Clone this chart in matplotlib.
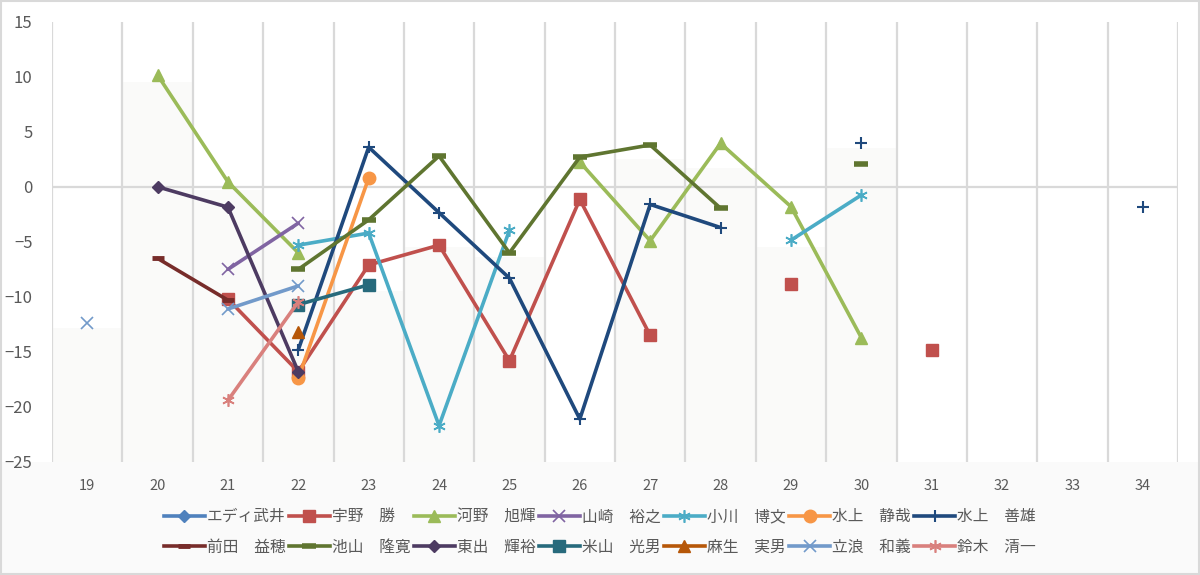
import numpy as np
import matplotlib
matplotlib.use("Agg")
import matplotlib.pyplot as plt
from matplotlib.patches import Rectangle
from matplotlib.lines import Line2D

plt.rcParams['font.family'] = ['Noto Sans CJK JP', 'DejaVu Sans']

nan = np.nan
categories = [19, 20, 21, 22, 23, 24, 25, 26, 27, 28, 29, 30, 31, 32, 33, 34]

# faint background step series
background = [-12.8, 9.5, -0.3, -3.0, -9.5, -5.5, -6.4, nan, 2.5, 1.7, -5.5, 3.5, nan, nan, nan, nan]

names = ["エディ武井", "宇野　勝", "河野　旭輝", "山崎　裕之", "小川　博文", "水上　静哉", "水上　善雄",
         "前田　益穂", "池山　隆寛", "東出　輝裕", "米山　光男", "麻生　実男", "立浪　和義", "鈴木　清一"]

eddie    = [nan]*16
uno      = [nan, nan, -10.2, -16.8, -7.1, -5.3, -15.8, -1.15, -13.5, nan, -8.8, nan, -14.8, nan, nan, nan]
kono     = [nan, 10.15, 0.45, -6.0, nan, nan, nan, 2.25, -4.9, 3.95, -1.8, -13.7, nan, nan, nan, nan]
yamazaki = [nan, nan, -7.5, -3.3, nan, nan, nan, nan, nan, nan, nan, nan, nan, nan, nan, nan]
ogawa    = [nan, nan, nan, -5.3, -4.2, -21.7, -3.95, nan, nan, nan, -4.85, -0.75, nan, nan, nan, nan]
mizukami_s = [nan, nan, nan, -17.4, 0.8, nan, nan, nan, nan, nan, nan, nan, nan, nan, nan, nan]
mizukami_y = [nan, nan, nan, -14.8, 3.6, -2.35, -8.3, -21.1, -1.6, -3.7, nan, 3.95, nan, nan, nan, -1.8]
maeda    = [nan, -6.5, -10.3, nan, nan, nan, nan, nan, nan, nan, nan, nan, nan, nan, nan, nan]
ikeyama  = [nan, nan, nan, -7.5, -3.0, 2.8, -6.0, 2.7, 3.8, -1.95, nan, 2.05, nan, nan, nan, nan]
higashide = [nan, 0.0, -1.85, -16.8, nan, nan, nan, nan, nan, nan, nan, nan, nan, nan, nan, nan]
yoneyama = [nan, nan, nan, -10.7, -8.9, nan, nan, nan, nan, nan, nan, nan, nan, nan, nan, nan]
aso      = [nan, nan, nan, -13.2, nan, nan, nan, nan, nan, nan, nan, nan, nan, nan, nan, nan]
tatsunami = [-12.4, nan, -11.1, -9.0, nan, nan, nan, nan, nan, nan, nan, nan, nan, nan, nan, nan]
suzuki   = [nan, nan, -19.4, -10.45, nan, nan, nan, nan, nan, nan, nan, nan, nan, nan, nan, nan]

series = [eddie, uno, kono, yamazaki, ogawa, mizukami_s, mizukami_y,
          maeda, ikeyama, higashide, yoneyama, aso, tatsunami, suzuki]

colors = ["#4F81BD", "#C0504D", "#9BBB59", "#8064A2", "#4BACC6", "#F79646", "#1F497D",
          "#772C2A", "#5F7530", "#4D3B62", "#276A7C", "#B65708", "#729ACA", "#D9807D"]
ASTER = (6, 2, 0)
markers = ["D", "s", "^", "x", ASTER, "o", "+", "_", "_", "D", "s", "^", "x", ASTER]
msizes = [6, 8, 9, 8, 9, 9, 9, 9, 10, 6, 8, 9, 8, 9]
mews = [1, 1, 1, 1.2, 1.2, 1, 1.5, 3.5, 4, 1, 1, 1, 1.2, 1.2]

W, H = 1200, 575
fig = plt.figure(figsize=(W/100, H/100), dpi=100)
fig.patch.set_facecolor("white")
# light band below plot
fig.patches.append(Rectangle((0, 0), 1, 1 - 462/H, transform=fig.transFigure,
                             facecolor="#FAFAFA", edgecolor="none", zorder=-10))
fig.patches.append(Rectangle((0.0008, 0.0015), 0.9984, 0.997, transform=fig.transFigure,
                             facecolor="none", edgecolor="#D9D9D9", lw=1.5, zorder=10))

ax = fig.add_axes([52/W, 1 - 462/H, (1178-52)/W, (462-21.7)/H])
ax.set_facecolor("white")
x = np.array(categories, dtype=float)
ax.set_xlim(18.5, 34.5)
ax.set_ylim(-25, 15)

# background faint area
bg = np.array(background, dtype=float)
for xi, v in zip(x, bg):
    if not np.isnan(v):
        ax.fill_between([xi-0.5, xi+0.5], -25, v, color="#FAFAF9", lw=0, zorder=0)

# grid
ax.set_xticks(x)
ax.set_xticks(np.arange(18.5, 35, 1), minor=True)
ax.grid(which="minor", axis="x", color="#D9D9D9", lw=1.6, zorder=1)
ax.axhline(0, color="#D9D9D9", lw=1.6, zorder=1)
ax.set_yticks(np.arange(-25, 16, 5))
for s in ax.spines.values():
    s.set_visible(False)
ax.tick_params(which="both", length=0)
ax.tick_params(axis="y", labelsize=12, labelcolor="#595959", pad=14)
ax.tick_params(axis="x", labelsize=10.5, labelcolor="#595959", pad=12)
ax.set_xticklabels([str(c) for c in categories])

handles = []
for name, ys, c, m, ms, mew in zip(names, series, colors, markers, msizes, mews):
    ys = np.array(ys, dtype=float)
    ax.plot(x, ys, color=c, lw=2.6, marker=m, markersize=ms, markeredgewidth=mew,
            markeredgecolor=c, markerfacecolor=c, zorder=3, solid_capstyle="round")
    handles.append(Line2D([], [], color=c, lw=2.6, marker=m, markersize=ms,
                          markeredgewidth=mew, markeredgecolor=c, markerfacecolor=c))

order = []
for j in range(7):
    order += [j, j + 7]
leg = fig.legend([handles[i] for i in order], [names[i] for i in order],
                 ncol=7, loc="center", bbox_to_anchor=(0.5, 1 - 532/H),
                 frameon=False, fontsize=11.3, handlelength=2.6, handletextpad=0.15,
                 columnspacing=0.2, labelspacing=0.85, labelcolor="#595959")

fig.savefig("out.png", dpi=100, facecolor=fig.get_facecolor())
